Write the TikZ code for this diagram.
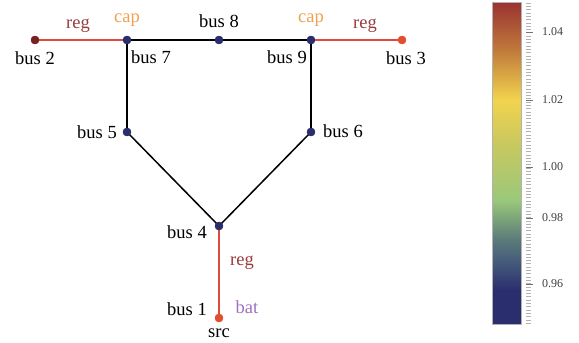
\documentclass[tikz,border=0pt]{standalone}
\usepackage{fontspec}
\setmainfont{Liberation Serif}
\definecolor{navy}{HTML}{2B2E6E}
\definecolor{darkred}{HTML}{7A1F1F}
\definecolor{orred}{HTML}{E0502F}
\definecolor{linered}{HTML}{E04A3A}
\definecolor{reglab}{HTML}{9A3A3A}
\definecolor{caplab}{HTML}{F0A050}
\definecolor{batlab}{HTML}{A070C0}
\definecolor{cb1}{HTML}{9A3232}
\definecolor{cb2}{HTML}{C07A3A}
\definecolor{cb3}{HTML}{F2D34E}
\definecolor{cb4}{HTML}{C8C860}
\definecolor{cb5}{HTML}{9AC87A}
\definecolor{cb6}{HTML}{5A7A7A}
\definecolor{cb7}{HTML}{455B7A}
\definecolor{cb8}{HTML}{2B2E6E}
\tikzset{
  bus/.style={circle,inner sep=0pt,minimum size=8.4pt,fill=#1},
  lbl/.style={font=\fontsize{18.5}{18.5}\selectfont,inner sep=0pt},
  line/.style={line width=1.5pt,black},
  rline/.style={line width=1.5pt,linered},
  ticklab/.style={font=\fontsize{12}{12}\selectfont,text=black!75,inner sep=0pt,anchor=west}
}
\begin{document}
\begin{tikzpicture}[x=1pt,y=-1pt]
\useasboundingbox (0,0) rectangle (579,343);
% nodes
\node[bus=darkred] (b2) at (35,40) {};
\node[bus=navy] (b7) at (127,40) {};
\node[bus=navy] (b8) at (219,40) {};
\node[bus=navy] (b9) at (311,40) {};
\node[bus=orred] (b3) at (402,40) {};
\node[bus=navy] (b5) at (127,132) {};
\node[bus=navy] (b6) at (311,132) {};
\node[bus=navy] (b4) at (219,226) {};
\node[bus=orred] (b1) at (219,318) {};
% edges
\draw[rline] (b2.center) -- (b7.center);
\draw[rline] (b9.center) -- (b3.center);
\draw[rline] (b4.center) -- (b1.center);
\draw[line] (b7.center) -- (b8.center);
\draw[line] (b8.center) -- (b9.center);
\draw[line] (b7.center) -- (b5.center);
\draw[line] (b9.center) -- (b6.center);
\draw[line] (b5.center) -- (b4.center);
\draw[line] (b6.center) -- (b4.center);
% redraw dots on top
\foreach \n/\c in {b2/darkred,b7/navy,b8/navy,b9/navy,b3/orred,b5/navy,b6/navy,b4/navy,b1/orred}
  \fill[\c] (\n.center) circle (4.2pt);
% labels
\node[lbl] (l2) at (35,58) {bus 2};
\node[lbl] (l7) at (151,57) {bus 7};
\node[lbl] (l8) at (219,21) {bus 8};
\node[lbl] (l9) at (287,57) {bus 9};
\node[lbl] (l3) at (406,58) {bus 3};
\node[lbl] (l5) at (97,132) {bus 5};
\node[lbl] (l6) at (343,131) {bus 6};
\node[lbl] (l4) at (187,232) {bus 4};
\node[lbl] (l1) at (187,309) {bus 1};
\node[lbl] (lsrc) at (219,333) {src};
\node[lbl,text=reglab] (r1) at (78,26) {reg};
\node[lbl,text=reglab] (r2) at (365,26) {reg};
\node[lbl,text=reglab] (r3) at (242,263) {reg};
\node[lbl,text=caplab] (c1) at (127,20) {cap};
\node[lbl,text=caplab] (c2) at (311,20) {cap};
\node[lbl,text=batlab] (bat) at (247,307) {bat};
% colorbar
\shade[top color=cb1,bottom color=cb2] (492,2) rectangle (521,50);
\shade[top color=cb2,bottom color=cb3] (492,50) rectangle (521,100);
\shade[top color=cb3,bottom color=cb4] (492,100) rectangle (521,145);
\shade[top color=cb4,bottom color=cb5] (492,145) rectangle (521,200);
\shade[top color=cb5,bottom color=cb6] (492,200) rectangle (521,240);
\shade[top color=cb6,bottom color=cb7] (492,240) rectangle (521,262);
\shade[top color=cb7,bottom color=cb8] (492,262) rectangle (521,290);
\fill[cb8] (492,290) rectangle (521,324);
\draw[black!30,line width=0.5pt] (492,2) rectangle (521,324);
\foreach \k in {0,...,97} \draw[black!30,line width=0.5pt] (526,{3+3.3*\k}) -- (531,{3+3.3*\k});
\foreach \y in {32,100,167,218,284} \draw[black!55,line width=0.7pt] (526,\y) -- (533,\y);
\node[ticklab] (t1) at (542,32) {1.04};
\node[ticklab] (t2) at (542,100) {1.02};
\node[ticklab] (t3) at (542,167) {1.00};
\node[ticklab] (t4) at (542,218) {0.98};
\node[ticklab] (t5) at (542,284) {0.96};
\end{tikzpicture}
\end{document}
